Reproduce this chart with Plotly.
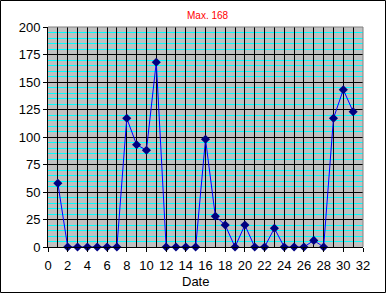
import plotly.graph_objects as go

dates = list(range(1, 32))
values = [58, 0, 0, 0, 0, 0, 0, 117, 93, 88, 168, 0, 0, 0, 0, 98, 28, 20, 0, 20,
          0, 0, 17, 0, 0, 0, 6, 0, 117, 143, 123]
x_tick_vals = list(range(0, 33))
x_tick_text = [str(v) if v % 2 == 0 else "" for v in x_tick_vals]
title_text = "Max. 168"
x_title = "Date"

W, H = 386, 293
L, R, T, B = 48, 23, 27, 46
PW, PH = W - L - R, H - T - B

fig = go.Figure()
fig.add_trace(go.Scatter(
    x=dates, y=values, mode="lines+markers",
    line=dict(color="#0000FF", width=1),
    marker=dict(symbol="diamond", size=7, color="#000080"),
    cliponaxis=False, showlegend=False,
))

font = dict(family="Liberation Sans, Arial, sans-serif", size=13, color="black")

fig.update_layout(
    width=W, height=H,
    margin=dict(l=L, r=R, t=T, b=B),
    paper_bgcolor="white", plot_bgcolor="#C0C0C0",
    font=font,
    xaxis=dict(
        range=[0, 32], tickmode="array", tickvals=x_tick_vals, ticktext=x_tick_text,
        ticks="", showgrid=True, gridcolor="black", gridwidth=1,
        showline=True, linecolor="black", linewidth=1, zeroline=False,
        tickfont=font, ticklabelstandoff=6,
        minor=dict(tickmode="linear", tick0=0, dtick=2, ticks="outside",
                   ticklen=4, tickcolor="black", showgrid=False),
        fixedrange=True,
    ),
    yaxis=dict(
        range=[0, 200], tickmode="linear", tick0=0, dtick=25,
        ticks="outside", ticklen=4, tickcolor="black",
        showgrid=True, gridcolor="black", gridwidth=1,
        showline=True, linecolor="black", linewidth=1, zeroline=False,
        tickfont=font,
        minor=dict(tickmode="linear", tick0=0, dtick=5, showgrid=True,
                   gridcolor="#00FFFF", gridwidth=1, ticks=""),
        fixedrange=True,
    ),
    annotations=[
        dict(text=title_text, xref="paper", yref="paper",
             x=(208 - L) / PW, y=(H - B - 15) / PH, showarrow=False,
             xanchor="center", yanchor="middle",
             font=dict(family="Liberation Sans, Arial, sans-serif", size=10, color="#FF0000")),
        dict(text=x_title, xref="paper", yref="paper",
             x=(195 - L) / PW, y=(H - B - 281) / PH, showarrow=False,
             xanchor="center", yanchor="middle", font=font),
    ],
    shapes=[
        dict(type="line", xref="paper", yref="paper", x0=0, x1=1, y0=1, y1=1,
             line=dict(color="#808080", width=1), layer="above"),
        dict(type="line", xref="paper", yref="paper", x0=1, x1=1, y0=0, y1=1,
             line=dict(color="#808080", width=1), layer="above"),
        dict(type="rect", xref="paper", yref="paper",
             x0=(0.5 - L) / PW, x1=(W - 0.5 - L) / PW,
             y0=(H - B - (H - 0.5)) / PH, y1=(H - B - 0.5) / PH,
             line=dict(color="black", width=1), fillcolor="rgba(0,0,0,0)", layer="above"),
    ],
)

fig.write_html("out.html", config={"displayModeBar": False})
